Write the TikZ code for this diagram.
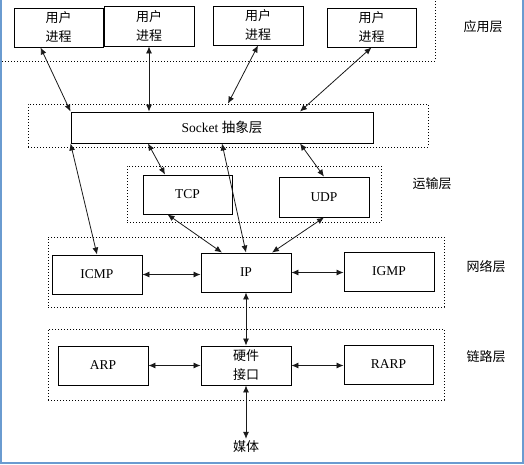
\documentclass[tikz,border=0pt]{standalone}
\usepackage{fontspec}
\setmainfont{Liberation Serif}
\newfontfamily\cjk{Noto Sans CJK SC}
\usepackage{tikz}
\usepackage{xcolor}
\usetikzlibrary{arrows.meta,positioning,calc}
\definecolor{Ink}{HTML}{1A1A1A}
\definecolor{Frame}{HTML}{6A9BD0}

\begin{document}
\begin{tikzpicture}[x=1pt,y=-1pt,
    proto/.style={draw=black, line width=0.9pt, fill=white, minimum width=90pt, minimum height=39pt, inner sep=0pt, font=\fontsize{13.5}{19}\selectfont, align=center},
    layer/.style={draw=black, line width=0.8pt, dash pattern=on 1pt off 2pt, inner sep=0pt},
    layername/.style={font=\cjk\fontsize{13}{16}\selectfont},
    dblarrow/.style={Ink, line width=0.8pt, {Latex[length=7pt,width=6pt]}-{Latex[length=7pt,width=6pt]}}]
        \useasboundingbox (0,0) rectangle (524,464);
        \draw[Frame, line width=2pt] (1,0) -- (1,463) -- (523,463) -- (523,0);
        % layers
        \node[layer, minimum width=445pt, minimum height=71pt] (appl) at (212.5,25.5) {};
        \node[layer, minimum width=400pt, minimum height=43pt] (sockl) at (228,125.5) {};
        \node[layer, minimum width=254pt, minimum height=56pt] (tranl) at (254,194) {};
        \node[layer, minimum width=396pt, minimum height=70pt] (netl) at (246,272) {};
        \node[layer, minimum width=396pt, minimum height=71pt] (linkl) at (246,364.5) {};
        \node[layername] (appname) at (483,27) {应用层};
        \node[layername] (tranname) at (432,184) {运输层};
        \node[layername] (netname) at (486,267) {网络层};
        \node[layername] (linkname) at (486,357) {链路层};
        % boxes
        \node[proto, font=\cjk\fontsize{13}{19}\selectfont, minimum width=89pt] (p1) at (58.5,27.5) {用户\\进程};
        \node[proto, font=\cjk\fontsize{13}{19}\selectfont, minimum height=40pt] (p2) at (149,26) {用户\\进程};
        \node[proto, font=\cjk\fontsize{13}{19}\selectfont] (p3) at (258,25.5) {用户\\进程};
        \node[proto, font=\cjk\fontsize{13}{19}\selectfont, minimum width=89pt] (p4) at (371.5,27.5) {用户\\进程};
        \node[proto, minimum width=302pt, minimum height=31pt] (sock) at (222,127.5) {Socket {\cjk 抽象层}};
        \node[proto, minimum width=89pt] (tcp) at (187.5,194.5) {TCP};
        \node[proto, minimum height=40pt] (udp) at (324,197) {UDP};
        \node[proto] (icmp) at (97,274.5) {ICMP};
        \node[proto] (ip) at (246,272.5) {IP};
        \node[proto] (igmp) at (389,271.5) {IGMP};
        \node[proto] (arp) at (103,365.5) {ARP};
        \node[proto, font=\cjk\fontsize{13}{19}\selectfont] (hw) at (246,365.5) {硬件\\接口};
        \node[proto, minimum width=89pt] (rarp) at (388.5,364.5) {RARP};
        \node[font=\cjk\fontsize{13}{16}\selectfont, inner sep=2pt] (media) at (246,447) {媒体};
        \coordinate (p3end) at ($(p3.south |- sockl.north)+(-30,0)$);
        % arrows
        \draw[dblarrow] ([xshift=-18pt]p1.south) -- (sock.north west);
        \draw[dblarrow] (p2.south) -- (p2.south |- sock.north);
        \draw[dblarrow] (p3.south) -- (p3end);
        \draw[dblarrow] (p4.south) -- ([xshift=78pt]sock.north);
        \draw[dblarrow] (sock.south west) -- (icmp.north);
        \draw[dblarrow] ([xshift=-74pt]sock.south) -- ([xshift=-22.5pt]tcp.north);
        \draw[dblarrow] (sock.south) -- (ip.north);
        \draw[dblarrow] ([xshift=78pt]sock.south) -- (udp.north);
        \draw[dblarrow] ([xshift=-20pt]tcp.south) -- ([xshift=-24pt]ip.north);
        \draw[dblarrow] (udp.south) -- ([xshift=26pt]ip.north);
        \draw[dblarrow] (icmp.east) -- (icmp.east -| ip.west);
        \draw[dblarrow] (ip.east) -- (ip.east -| igmp.west);
        \draw[dblarrow] (ip.south) -- (hw.north);
        \draw[dblarrow] (arp.east) -- (hw.west);
        \draw[dblarrow] (hw.east) -- (hw.east -| rarp.west);
        \draw[dblarrow] (hw.south) -- (media.north);
\end{tikzpicture}
\end{document}
